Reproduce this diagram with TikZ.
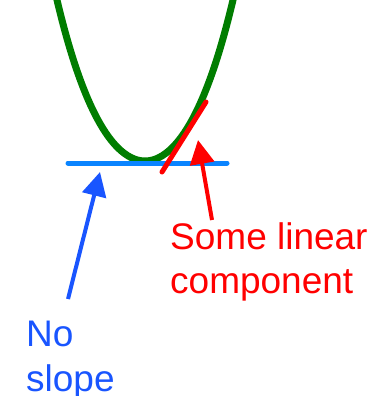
\documentclass[tikz,border=0pt]{standalone}
\usepackage{fontspec}
\setmainfont{Liberation Sans}
\usetikzlibrary{arrows.meta}
\definecolor{curvegreen}{RGB}{0,125,0}
\definecolor{flatblue}{RGB}{10,132,255}
\definecolor{labelblue}{RGB}{25,85,255}
\definecolor{labelred}{RGB}{255,0,0}
\tikzset{
  lbl/.style={anchor=base west, inner sep=0pt, font=\fontsize{37}{45}\selectfont},
  pointer/.style={line width=4pt, -{Triangle[length=24pt,width=24pt]}},
}
\begin{document}
\begin{tikzpicture}[x=1pt,y=-1pt]
\useasboundingbox (0,0) rectangle (384,396);
\begin{scope}
\clip (0,0) rectangle (384,396);
\draw[curvegreen, line width=7pt, line join=round]
  plot[smooth, domain=52:238, samples=60] (\x,{161-161*(0.85*((\x-145)/88)^2+0.15*((\x-145)/88)^4)});
\end{scope}
\draw[flatblue, line width=5pt, line cap=round] (68,163) -- (227,163);
\draw[labelred, line width=5pt, line cap=round] (162,172) -- (206,102);
\node[lbl, text=labelred] (red1) at (170,249) {Some linear};
\node[lbl, text=labelred] (red2) at (170,293) {component};
\node[lbl, text=labelblue] (blue1) at (26,346) {No};
\node[lbl, text=labelblue] (blue2) at (26,391) {slope};
\coordinate (redtail) at (212,220);
\coordinate (redtip) at (198,140);
\coordinate (bluetail) at (68,299);
\coordinate (bluetip) at (100,172);
\draw[pointer, labelred] (redtail) -- (redtip);
\draw[pointer, labelblue] (bluetail) -- (bluetip);
\end{tikzpicture}
\end{document}
